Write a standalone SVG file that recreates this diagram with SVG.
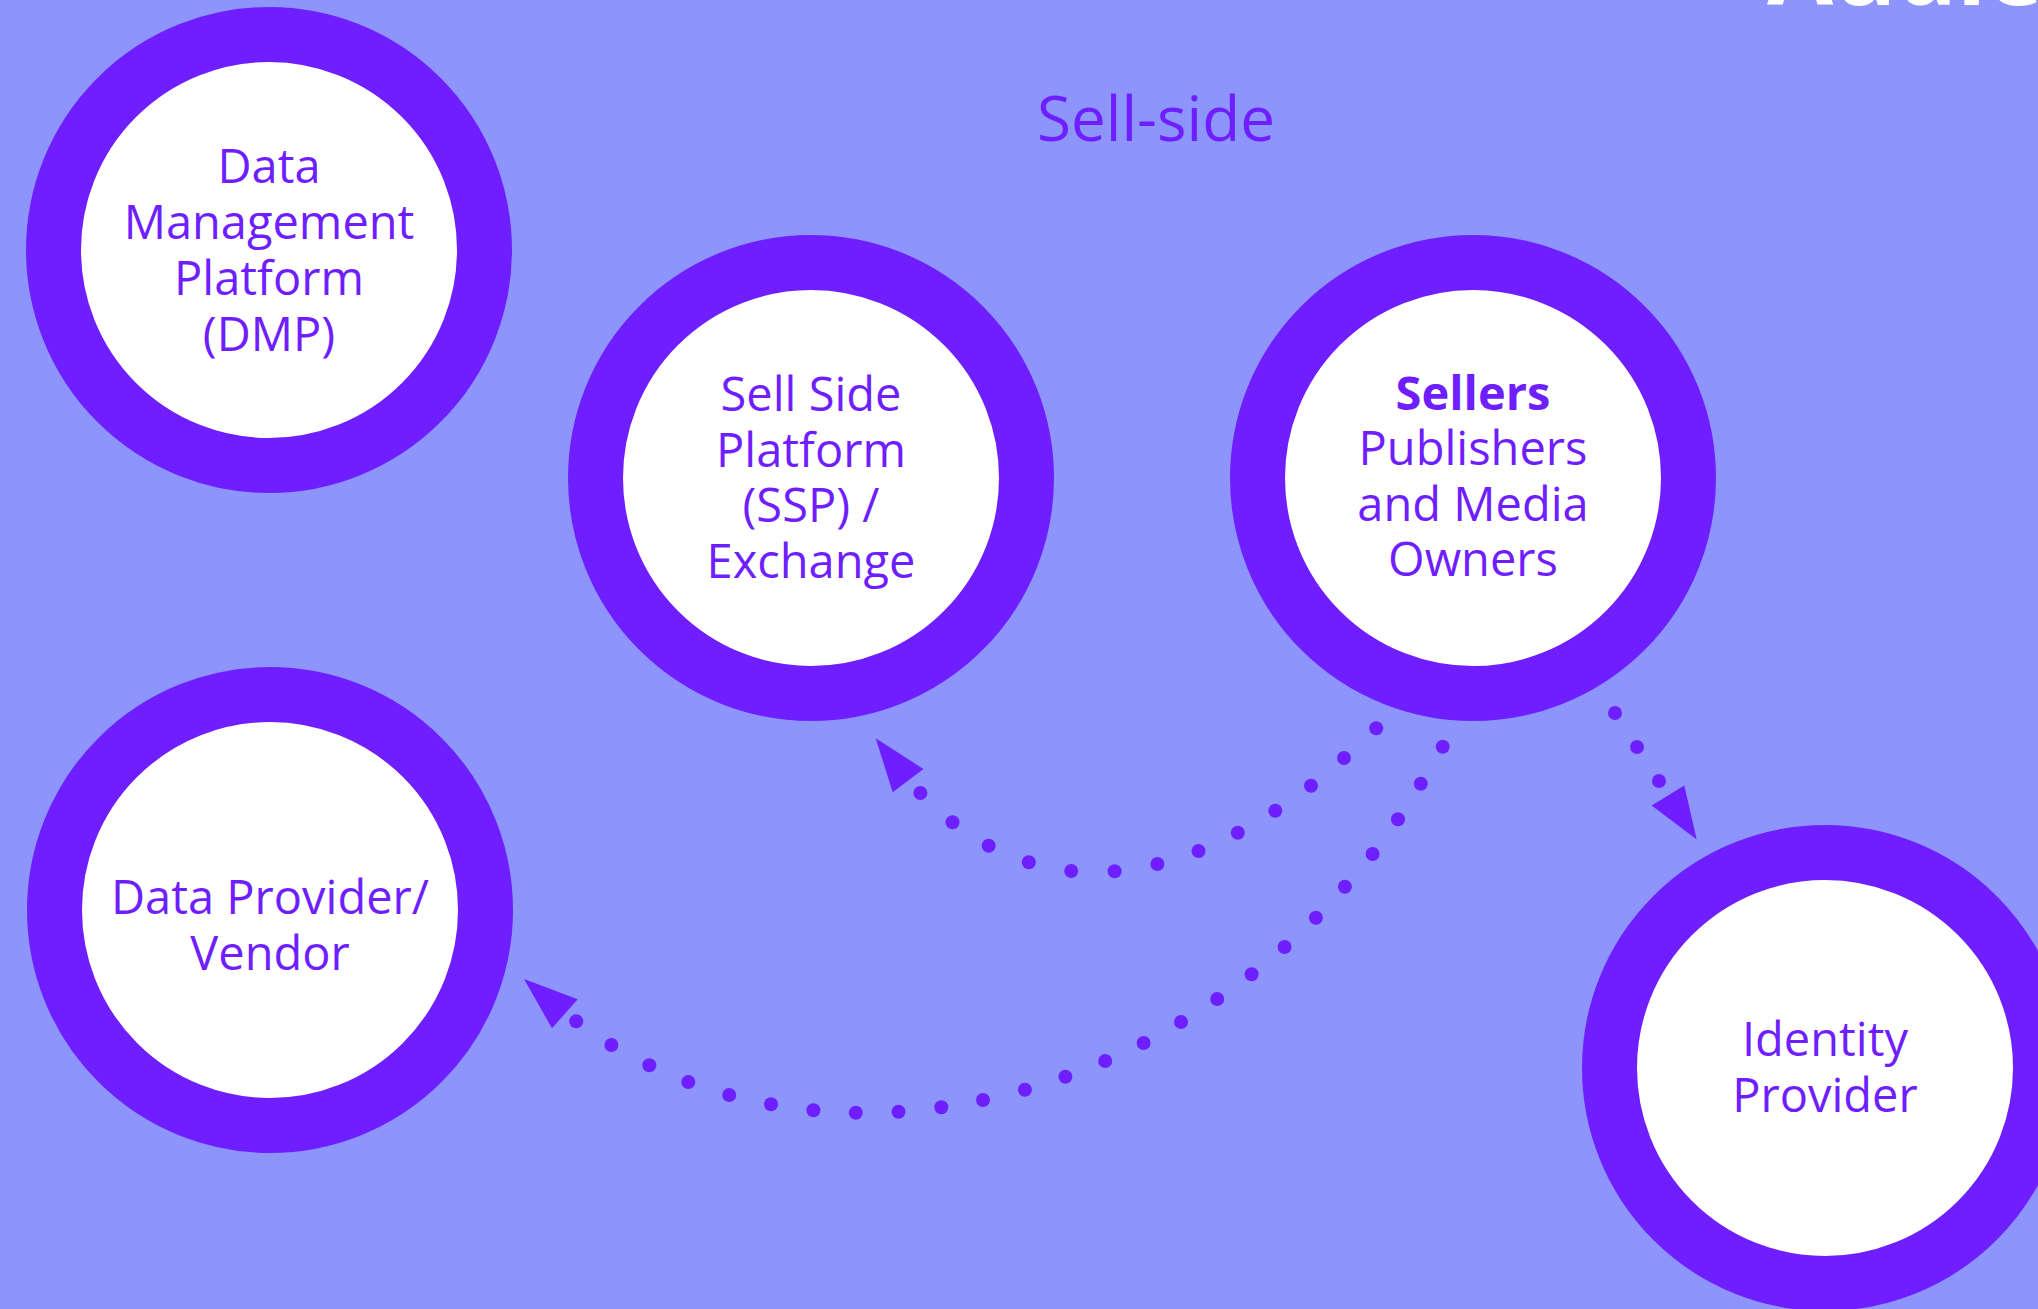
<svg xmlns="http://www.w3.org/2000/svg" width="2038" height="1309" viewBox="0 0 2038 1309">
  <style>
    .ring { fill: #ffffff; stroke: #6F1FFF; stroke-width: 55; }
    .label { font-family: "Open Sans", "Noto Sans", sans-serif; font-size: 47px; fill: #6F1FFF; text-anchor: middle; }
    .bold { font-weight: bold; }
    .title { font-family: "Open Sans", "Noto Sans", sans-serif; font-size: 62px; fill: #6F1FFF; text-anchor: middle; }
    .head { font-family: "Open Sans", "Noto Sans", sans-serif; font-size: 96px; font-weight: bold; fill: #ffffff; }
    .dotted { fill: none; stroke: none; marker-start: url(#dot); marker-mid: url(#dot); marker-end: url(#dot); }
    .arrow { fill: #6F1FFF; }
  </style>
  <defs>
    <marker id="dot" markerUnits="userSpaceOnUse" markerWidth="16" markerHeight="16" refX="8" refY="8" viewBox="0 0 16 16" orient="0">
      <circle cx="8" cy="8" r="7" fill="#6F1FFF"/>
    </marker>
  </defs>
  <rect x="0" y="0" width="2038" height="1309" fill="#8D95FD"/>
  <text class="head" x="1767" y="5">Audie</text>
  <text class="title" x="1156" y="141">Sell-side</text>

  <g id="connectors">
    <g id="sellers-to-ssp">
      <path class="dotted" d="M1376.2,728.3 L1344,758 L1311,785.7 L1275.3,810.7 L1237.8,832.7 L1198.5,851 L1157.4,864 L1114.6,871.3 L1071.2,871 L1028.8,862.3 L988.7,845.7 L952.5,822.3 L920.4,793"/>
      <polygon class="arrow" points="875.7,738.3 923.5,769 892.7,792.3"/>
    </g>
    <g id="sellers-to-data-provider">
      <path class="dotted" d="M1442.7,746.7 L1420.8,783.7 L1398,819.3 L1372.6,854 L1344.9,886.7 L1315.9,917.7 L1284.6,947 L1251.6,974.3 L1217.2,999 L1181,1022 L1143.6,1043 L1105.2,1061 L1065.4,1076.7 L1024.9,1089.7 L983,1100 L941.3,1107.2 L898.5,1111.7 L855.8,1112.7 L813.4,1110.3 L771,1104.3 L729.2,1095 L688.3,1082 L649.3,1065.3 L611.4,1045 L576.2,1021.3"/>
      <polygon class="arrow" points="524,979 577.7,999.3 552,1028.3"/>
    </g>
    <g id="sellers-to-identity">
      <path class="dotted" d="M1615,713 L1637,747 L1659,781"/>
      <polygon class="arrow" points="1696.7,839.6 1651.7,805.6 1684.3,785.5"/>
    </g>
  </g>

  <g id="dmp">
    <circle class="ring" cx="269" cy="250" r="215.5"/>
    <text class="label" x="269" y="183"><tspan x="269" y="183">Data</tspan><tspan x="269" y="239">Management</tspan><tspan x="269" y="295">Platform</tspan><tspan x="269" y="351">(DMP)</tspan></text>
  </g>
  <g id="ssp">
    <circle class="ring" cx="811" cy="478" r="215.5"/>
    <text class="label" x="811" y="411"><tspan x="811" y="411">Sell Side</tspan><tspan x="811" y="467">Platform</tspan><tspan x="811" y="522">(SSP) /</tspan><tspan x="811" y="578">Exchange</tspan></text>
  </g>
  <g id="sellers">
    <circle class="ring" cx="1473" cy="478" r="215.5"/>
    <text class="label" x="1473" y="410"><tspan class="bold" x="1473" y="410">Sellers</tspan><tspan x="1473" y="465">Publishers</tspan><tspan x="1473" y="521">and Media</tspan><tspan x="1473" y="576">Owners</tspan></text>
  </g>
  <g id="data-provider">
    <circle class="ring" cx="270" cy="910" r="215.5"/>
    <text class="label" x="270" y="914"><tspan x="270" y="914">Data Provider/</tspan><tspan x="270" y="970">Vendor</tspan></text>
  </g>
  <g id="identity-provider">
    <circle class="ring" cx="1825" cy="1068" r="215.5"/>
    <text class="label" x="1825" y="1056"><tspan x="1825" y="1056">Identity</tspan><tspan x="1825" y="1112">Provider</tspan></text>
  </g>
</svg>
